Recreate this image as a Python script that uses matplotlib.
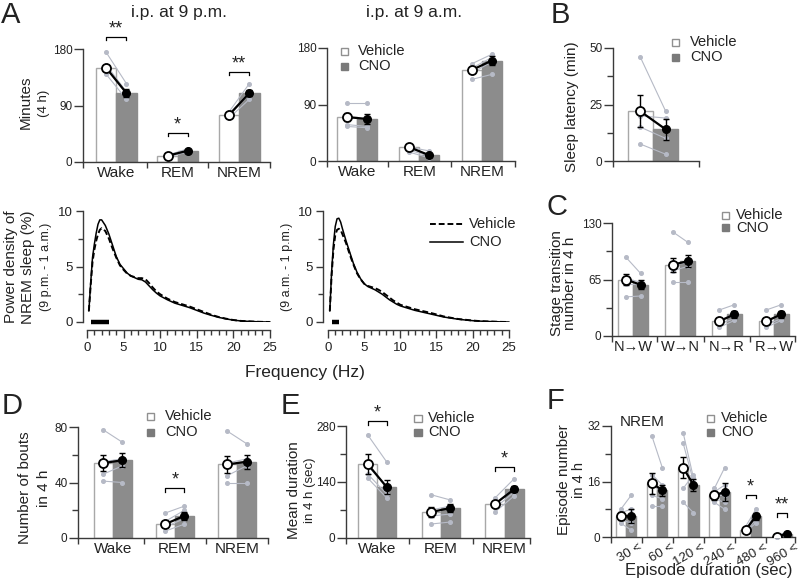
import numpy as np
import matplotlib
matplotlib.use('Agg')
import matplotlib.pyplot as plt
from matplotlib.patches import Rectangle

plt.rcParams['font.family'] = ['Liberation Sans', 'DejaVu Sans']

# ---------------- data ----------------
stages = ['Wake', 'REM', 'NREM']

# A, i.p. at 9 p.m. (minutes in 4 h)
pm_veh = [150, 10, 75]
pm_cno = [110, 18, 110]
pm_veh_err = [5, 1.5, 4]
pm_cno_err = [6, 1.5, 5]
pm_veh_pts = [[175, 155, 150, 140], [11, 10, 9, 8], [80, 76, 74, 70]]
pm_cno_pts = [[125, 112, 108, 100], [21, 18, 17, 16], [125, 112, 108, 100]]

# A, i.p. at 9 a.m.
am_veh = [70, 22, 145]
am_cno = [67, 9, 160]
am_veh_err = [7, 2, 5]
am_cno_err = [8, 2, 7]
am_veh_pts = [[92, 70, 58, 55], [22, 20, 17, 14], [155, 148, 140, 130]]
am_cno_pts = [[92, 67, 55, 53], [16, 10, 8, 5], [170, 165, 158, 138]]

# B, sleep latency (min)
lat_veh = [22]
lat_cno = [14]
lat_veh_err = [7]
lat_cno_err = [4.5]
lat_veh_pts = [[46, 20, 15, 7.5]]
lat_cno_pts = [[22, 19, 10, 3]]

# A bottom, NREM power density (%)
freq = [0.25, 0.5, 0.75, 1.0, 1.25, 1.5, 1.75, 2.0, 2.5, 3.0, 3.5, 4.0, 4.5, 5, 5.5, 6, 6.5,
        7, 7.5, 8, 8.5, 9, 9.5, 10, 11, 12, 13, 14, 15, 16, 17, 18, 19, 20, 21, 22, 23, 24, 25]
pw_pm_cno = [1.0, 3.5, 5.8, 7.0, 8.0, 8.8, 9.2, 9.2, 8.7, 7.9, 6.9, 5.9, 5.2, 4.8, 4.4, 4.15, 4.0,
             3.85, 3.8, 3.6, 3.25, 2.9, 2.6, 2.35, 2.0, 1.7, 1.5, 1.3, 1.05, 0.8, 0.6, 0.42, 0.28,
             0.17, 0.1, 0.06, 0.03, 0.01, 0.0]
pw_pm_veh = [1.0, 3.3, 5.4, 6.5, 7.3, 7.9, 8.3, 8.45, 8.2, 7.5, 6.6, 5.8, 5.1, 4.7, 4.35, 4.15, 4.05,
             3.95, 3.95, 3.85, 3.5, 3.1, 2.75, 2.5, 2.1, 1.8, 1.6, 1.4, 1.15, 0.9, 0.65, 0.45, 0.3,
             0.18, 0.1, 0.06, 0.03, 0.01, 0.0]
pw_am_cno = [1.0, 4.5, 7.0, 8.6, 9.3, 9.35, 9.0, 8.4, 7.3, 6.3, 5.3, 4.5, 3.9, 3.45, 3.2, 3.05, 2.9,
             2.7, 2.5, 2.25, 2.0, 1.8, 1.6, 1.45, 1.25, 1.05, 0.9, 0.75, 0.6, 0.45, 0.35, 0.25, 0.18,
             0.12, 0.08, 0.05, 0.03, 0.01, 0.0]
pw_am_veh = [1.0, 4.2, 6.5, 7.8, 8.3, 8.4, 8.3, 7.9, 7.1, 6.1, 5.2, 4.4, 3.85, 3.45, 3.25, 3.15, 3.05,
             2.9, 2.7, 2.45, 2.2, 1.95, 1.75, 1.55, 1.35, 1.15, 1.0, 0.85, 0.68, 0.5, 0.38, 0.27, 0.2,
             0.13, 0.08, 0.05, 0.03, 0.01, 0.0]
pm_sig_band = [0.5, 3.0]
am_sig_band = [0.5, 1.5]

# C, stage transitions
trans = ['N\u2192W', 'W\u2192N', 'N\u2192R', 'R\u2192W']
tr_veh = [65, 82, 17, 17]
tr_cno = [59, 86, 25, 25]
tr_veh_err = [6, 8, 3, 3]
tr_cno_err = [5, 7, 4, 4]
tr_veh_pts = [[91, 66, 60, 45], [120, 82, 75, 62], [30, 18, 14, 10], [30, 17, 13, 10]]
tr_cno_pts = [[72, 62, 60, 46], [108, 84, 80, 62], [36, 25, 20, 18], [36, 24, 20, 18]]

# D, number of bouts
bo_veh = [54, 10, 53]
bo_cno = [56, 16, 55]
bo_veh_err = [6, 2, 6]
bo_cno_err = [5, 3, 5]
bo_veh_pts = [[78, 55, 46, 41], [18, 12, 8, 5], [77, 54, 45, 40]]
bo_cno_pts = [[69, 57, 52, 40], [23, 20, 14, 10], [68, 57, 52, 40]]

# E, mean duration (sec)
du_veh = [185, 65, 85]
du_cno = [127, 75, 122]
du_veh_err = [25, 12, 5]
du_cno_err = [18, 10, 8]
du_veh_pts = [[258, 180, 160, 150], [108, 70, 55, 35], [100, 85, 75, 65]]
du_cno_pts = [[190, 130, 110, 100], [95, 80, 60, 40], [148, 125, 115, 105]]

# F, NREM episode number by duration
epi = ['30 <', '60 <', '120 <', '240 <', '480 <', '960 <']
ep_veh = [6, 15.5, 20, 12, 2, 0.1]
ep_cno = [6, 13.5, 15, 13, 6, 1]
ep_veh_err = [1.2, 3, 3, 1.2, 0.3, 0.1]
ep_cno_err = [2, 1.6, 1.8, 2.5, 1, 0.3]
ep_veh_pts = [[8, 7, 6, 5, 4], [29, 18, 15, 12, 9], [30, 27, 19, 14, 10],
              [14, 13, 12, 11, 10], [3, 2, 2, 1.5, 1.5], [0.3, 0, 0, 0, 0.2]]
ep_cno_pts = [[12, 8, 6, 4, 2], [20, 15, 13, 11, 9], [17, 16, 17, 18, 7],
              [20, 15, 12, 10, 8], [8, 7, 6, 5, 4], [1.5, 1, 1, 0.5, 1]]

# ---------------- style ----------------
W, H = 800, 582
VEH_EDGE = '#a8a8a8'
CNO_FILL = '#8c8c8c'
PT_COL = '#b6bac6'
AX_COL = '#3a3a3a'
TXT = '#222222'

fig = plt.figure(figsize=(W / 100, H / 100), dpi=100)


def px_axes(x0, y0, x1, y1):
    # pixel box: left, top, right, bottom
    return fig.add_axes([x0 / W, 1 - y1 / H, (x1 - x0) / W, (y1 - y0) / H])


def ftext(x, y, s, **kw):
    kw.setdefault('color', TXT)
    fig.text(x / W, 1 - y / H, s, **kw)


def legend_boxes(x, y1, y2, tx, size=7):
    s = size
    fig.add_artist(Rectangle(((x - s / 2) / W, 1 - (y1 + s / 2) / H), s / W, s / H,
                             transform=fig.transFigure, facecolor='white', edgecolor='#909090', lw=1))
    fig.add_artist(Rectangle(((x - s / 2) / W, 1 - (y2 + s / 2) / H), s / W, s / H,
                             transform=fig.transFigure, facecolor='#7a7a7a', edgecolor='#7a7a7a', lw=1))
    ftext(tx + 3, y1, 'Vehicle', fontsize=10.5, va='center')
    ftext(tx + 3, y2, 'CNO', fontsize=10.5, va='center')


def style_axes(ax):
    for s in ['top', 'right']:
        ax.spines[s].set_visible(False)
    for s in ['left', 'bottom']:
        ax.spines[s].set_color(AX_COL)
        ax.spines[s].set_linewidth(1)
    ax.tick_params(which='both', direction='out', color=AX_COL, width=1, labelcolor=TXT)
    ax.tick_params(which='major', length=4)
    ax.tick_params(which='minor', length=4)


def bar_panel(ax, cats, veh, cno, veh_err, cno_err, veh_pts, cno_pts, w, xlim, ymax, yminor=None,
              labelsize=11):
    x = np.arange(len(cats))
    ax.bar(x - w / 2, veh, w, color='white', edgecolor=VEH_EDGE, lw=1, zorder=1)
    ax.bar(x + w / 2, cno, w, color=CNO_FILL, edgecolor=CNO_FILL, lw=1, zorder=1)
    for i in range(len(cats)):
        for a, b in zip(veh_pts[i], cno_pts[i]):
            ax.plot([x[i] - w / 2, x[i] + w / 2], [a, b], color=PT_COL, lw=0.8,
                    marker='o', ms=2.6, zorder=2, clip_on=False)
        ax.plot([x[i] - w / 2, x[i] + w / 2], [veh[i], cno[i]], color='k', lw=1.6, zorder=3)
        ax.errorbar([x[i] - w / 2], [veh[i]], yerr=[veh_err[i]], color='k', lw=1,
                    capsize=2.5, capthick=1, zorder=3)
        ax.errorbar([x[i] + w / 2], [cno[i]], yerr=[cno_err[i]], color='k', lw=1,
                    capsize=2.5, capthick=1, zorder=3)
        ax.plot(x[i] - w / 2, veh[i], 'o', mfc='white', mec='k', mew=1.3, ms=6.5, zorder=4)
        ax.plot(x[i] + w / 2, cno[i], 'o', color='k', ms=5.5, zorder=4)
    style_axes(ax)
    ax.set_xlim(*xlim)
    ax.set_ylim(0, ymax)
    ax.set_yticks([0, ymax / 2, ymax])
    ax.set_yticklabels(['0', '%g' % (ymax / 2), '%g' % ymax], fontsize=8.5)
    if yminor:
        ax.set_yticks([ymax / 4, 3 * ymax / 4], minor=True)
    seps = [xlim[0]] + [i + 0.5 for i in range(len(cats) - 1)] + [xlim[1]]
    ax.set_xticks(seps)
    ax.set_xticklabels([''] * len(seps))
    ax.set_xticks(x, minor=True)
    ax.set_xticklabels(cats, minor=True, fontsize=labelsize)
    ax.tick_params(axis='x', which='minor', length=0, pad=3)
    ax.tick_params(axis='y', which='major', length=6.5, pad=1)
    ax.tick_params(axis='y', which='minor', length=4.5)
    return x


def sig(ax, x1, x2, y, h, txt):
    ax.plot([x1, x1, x2, x2], [y - h, y, y, y - h], color='k', lw=0.9, clip_on=False)
    ax.text((x1 + x2) / 2, y, txt, ha='center', va='bottom', fontsize=13, color=TXT)


# ---------------- panel A (top) ----------------
axA1 = px_axes(83, 49, 270, 162)
w = 0.33
x = bar_panel(axA1, stages, pm_veh, pm_cno, pm_veh_err, pm_cno_err, pm_veh_pts, pm_cno_pts,
              w, (-0.54, 2.5), 180)
sig(axA1, x[0] - w / 2, x[0] + w / 2, 199, 5, '**')
sig(axA1, x[1] - w / 2, x[1] + w / 2, 46, 5, '*')
sig(axA1, x[2] - w / 2, x[2] + w / 2, 143, 5, '**')

axA2 = px_axes(327, 48, 515, 161)
bar_panel(axA2, stages, am_veh, am_cno, am_veh_err, am_cno_err, am_veh_pts, am_cno_pts,
          0.32, (-0.48, 2.53), 180)
legend_boxes(344, 51, 66, 355)

ftext(179, 13, 'i.p. at 9 p.m.', fontsize=12.5, ha='center', va='center')
ftext(414, 13, 'i.p. at 9 a.m.', fontsize=12.5, ha='center', va='center')
ftext(26, 102, 'Minutes', fontsize=11, rotation=90, ha='center', va='center')
ftext(44, 103, '(4 h)', fontsize=9.5, rotation=90, ha='center', va='center')

# ---------------- panel B ----------------
axB = px_axes(613, 48, 699, 161)
bar_panel(axB, [''], lat_veh, lat_cno, lat_veh_err, lat_cno_err, lat_veh_pts, lat_cno_pts,
          0.41, (-0.645, 0.742), 50, yminor=True)
axB.set_yticklabels(['0', '25', '50'], fontsize=8.5)
legend_boxes(675, 42, 57, 687)
ftext(572, 107, 'Sleep latency (min)', fontsize=11, rotation=90, ha='center', va='center')

# ---------------- panel A (bottom, power spectra) ----------------
def spectrum(ax, veh, cno, band, xl):
    ax.plot(freq, veh, color='k', lw=1.4, ls=(0, (3, 1.5)))
    ax.plot(freq, cno, color='k', lw=1.1)
    ax.plot(band, [0.02, 0.02], color='k', lw=3.2, solid_capstyle='butt', clip_on=False)
    style_axes(ax)
    ax.set_xlim(*xl)
    ax.set_ylim(0, 10)
    ax.spines['bottom'].set_position(('outward', 5.5))
    ax.spines['bottom'].set_bounds(0, 25)
    ax.spines['left'].set_bounds(0, 10)
    ax.set_xticks([0, 5, 10, 15, 20, 25])
    ax.set_xticklabels(['0', '5', '10', '15', '20', '25'], fontsize=9.5)
    ax.set_xticks(np.arange(0, 26, 1), minor=True)
    ax.set_yticks([0, 5, 10])
    ax.set_yticklabels(['0', '5', '10'], fontsize=9.5)
    ax.set_yticks([2.5, 7.5], minor=True)
    ax.tick_params(axis='x', which='major', length=5.5)
    ax.tick_params(axis='x', which='minor', length=3.5)
    ax.tick_params(axis='y', which='major', length=5, pad=2)
    ax.tick_params(axis='y', which='minor', length=3.5)


axP1 = px_axes(83, 211, 272, 322)
spectrum(axP1, pw_pm_veh, pw_pm_cno, pm_sig_band, (-0.55, 25.3))
axP2 = px_axes(323, 211, 511, 322)
spectrum(axP2, pw_am_veh, pw_am_cno, am_sig_band, (-0.69, 25.3))

fig.add_artist(plt.Line2D([430 / W, 463 / W], [1 - 224 / H] * 2, color='k', lw=1.4,
                          ls=(0, (3, 1.5))))
fig.add_artist(plt.Line2D([430 / W, 463 / W], [1 - 242 / H] * 2, color='k', lw=1.1))
ftext(469, 224, 'Vehicle', fontsize=10.5, va='center')
ftext(469, 242, 'CNO', fontsize=10.5, va='center')

ftext(11, 267, 'Power density of', fontsize=11, rotation=90, ha='center', va='center')
ftext(28, 267, 'NREM sleep (%)', fontsize=11, rotation=90, ha='center', va='center')
ftext(46, 267, '(9 p.m. - 1 a.m.)', fontsize=9, rotation=90, ha='center', va='center')
ftext(287, 267, '(9 a.m. - 1 p.m.)', fontsize=9, rotation=90, ha='center', va='center')
ftext(305, 372, 'Frequency (Hz)', fontsize=12.5, ha='center', va='center')

# ---------------- panel C ----------------
axC = px_axes(612, 223, 795, 336)
bar_panel(axC, trans, tr_veh, tr_cno, tr_veh_err, tr_cno_err, tr_veh_pts, tr_cno_pts,
          0.32, (-0.45, 3.45), 130, yminor=True, labelsize=10.5)
legend_boxes(725, 215, 228, 733)
ftext(557, 283, 'Stage transition', fontsize=11, rotation=90, ha='center', va='center')
ftext(570, 283, 'number in 4 h', fontsize=11, rotation=90, ha='center', va='center')

# ---------------- panel D ----------------
axD = px_axes(78, 427, 268, 538)
w = 0.31
x = bar_panel(axD, stages, bo_veh, bo_cno, bo_veh_err, bo_cno_err, bo_veh_pts, bo_cno_pts,
              w, (-0.56, 2.5), 80, yminor=True)
sig(axD, x[1] - w / 2, x[1] + w / 2, 36, 2.5, '*')
legend_boxes(150, 416, 432, 162)
ftext(25, 488, 'Number of bouts', fontsize=11, rotation=90, ha='center', va='center')
ftext(44, 488, 'in 4 h', fontsize=11, rotation=90, ha='center', va='center')

# ---------------- panel E ----------------
axE = px_axes(346, 426, 530, 538)
w = 0.30
x = bar_panel(axE, stages, du_veh, du_cno, du_veh_err, du_cno_err, du_veh_pts, du_cno_pts,
              w, (-0.49, 2.4), 280, yminor=True)
sig(axE, x[0] - w / 2, x[0] + w / 2, 292, 9, '*')
sig(axE, x[2] - w / 2, x[2] + w / 2, 177, 9, '*')
legend_boxes(418, 418, 432, 425)
ftext(294, 490, 'Mean duration', fontsize=11, rotation=90, ha='center', va='center')
ftext(310, 490, 'in 4 h (sec)', fontsize=9.5, rotation=90, ha='center', va='center')

# ---------------- panel F ----------------
axF = px_axes(611, 426, 795, 537)
w = 0.33
x = bar_panel(axF, epi, ep_veh, ep_cno, ep_veh_err, ep_cno_err, ep_veh_pts, ep_cno_pts,
              w, (-0.48, 5.42), 32, yminor=True, labelsize=9.5)
# rotated duration labels, right end tucked under each pair of bars
axF.set_xticks(x + 0.4, minor=True)
axF.set_xticklabels(epi, minor=True, fontsize=9.5, rotation=30, ha='right',
                    rotation_mode='anchor')
axF.tick_params(axis='x', which='minor', pad=3)
sig(axF, x[4] - w / 2, x[4] + w / 2, 12.1, 1, '*')
sig(axF, x[5] - w / 2, x[5] + w / 2, 6.9, 1, '**')
legend_boxes(710, 418, 432, 718)
ftext(620, 422, 'NREM', fontsize=11, va='center')
ftext(564, 480, 'Episode number', fontsize=11, rotation=90, ha='center', va='center')
ftext(579, 480, 'in 4 h', fontsize=10.5, rotation=90, ha='center', va='center')
ftext(709, 571, 'Episode duration (sec)', fontsize=12, ha='center', va='center')

# ---------------- panel letters ----------------
for lx, ly, s in [(1, 15, 'A'), (551, 15, 'B'), (547, 207, 'C'),
                  (2, 406, 'D'), (281, 406, 'E'), (547, 401, 'F')]:
    ftext(lx, ly, s, fontsize=21, va='center')

fig.savefig('out.png', dpi=100)
